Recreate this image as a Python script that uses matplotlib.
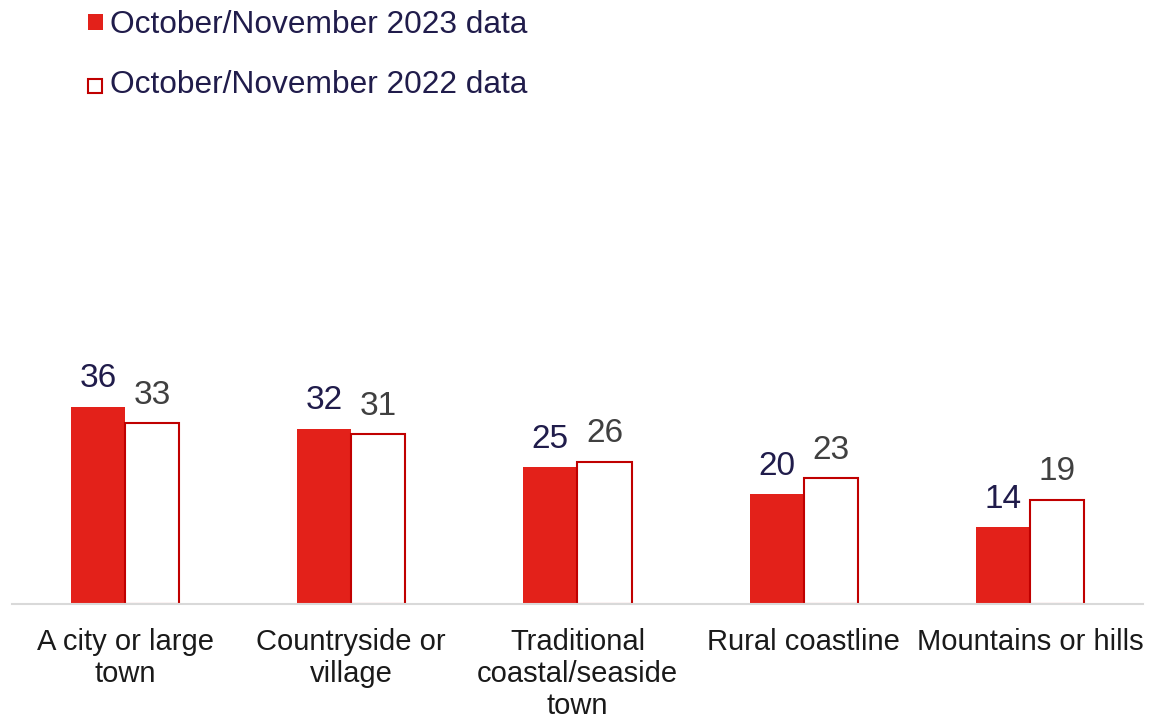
import matplotlib.pyplot as plt
import numpy as np
from matplotlib.patches import Rectangle

plt.rcParams["font.family"] = ["Liberation Sans", "DejaVu Sans"]

categories = [
    "A city or large\ntown",
    "Countryside or\nvillage",
    "Traditional\ncoastal/seaside\ntown",
    "Rural coastline",
    "Mountains or hills",
]
values_2023 = [36, 32, 25, 20, 14]
values_2022 = [33, 31, 26, 23, 19]
series_names = ["October/November 2023 data", "October/November 2022 data"]

RED = "#E3211A"
RED_EDGE = "#C00000"
NAVY = "#201C4B"
GREY = "#404040"

fig = plt.figure(figsize=(11.72, 7.21), dpi=100)
ax = fig.add_axes([0.0102, 0.1623, 0.9650, 0.6075])

x = np.arange(len(categories))
w = 0.239

ax.bar(x - w / 2, values_2023, w, color=RED, edgecolor="none", zorder=2)
ax.bar(x + w / 2, values_2022, w, color="white", edgecolor=RED_EDGE,
       linewidth=1.5, zorder=2)

for xi, v in zip(x, values_2023):
    ax.annotate(str(v), (xi - w / 2, v), xytext=(0, 9), textcoords="offset points",
                ha="center", va="bottom", fontsize=24, color=NAVY)
for xi, v in zip(x, values_2022):
    ax.annotate(str(v), (xi + w / 2, v), xytext=(0, 9), textcoords="offset points",
                ha="center", va="bottom", fontsize=24, color=GREY)

ax.set_xlim(-0.5, len(categories) - 0.5)
ax.set_ylim(0, 80)
ax.set_xticks(x)
ax.set_xticklabels(categories, fontsize=21, color="#1A1A1A", linespacing=1.2)
ax.tick_params(axis="x", length=0, pad=17)
ax.set_yticks([])
for side in ["top", "right", "left"]:
    ax.spines[side].set_visible(False)
ax.spines["bottom"].set_color("#D9D9D9")
ax.spines["bottom"].set_linewidth(1.5)

# legend drawn by hand to match the stacked layout
fig.patches.append(Rectangle((88 / 1172, 1 - 30 / 721), 15 / 1172, 16 / 721,
                             transform=fig.transFigure, facecolor=RED,
                             edgecolor="none"))
fig.patches.append(Rectangle((88 / 1172, 1 - 93 / 721), 14 / 1172, 14 / 721,
                             transform=fig.transFigure, facecolor="white",
                             edgecolor=RED_EDGE, linewidth=1.5))
fig.text(110 / 1172, 1 - 25 / 721, series_names[0], fontsize=22.8, color=NAVY,
         va="center", ha="left")
fig.text(110 / 1172, 1 - 85 / 721, series_names[1], fontsize=22.8, color=NAVY,
         va="center", ha="left")

fig.savefig("out.png", dpi=100)
